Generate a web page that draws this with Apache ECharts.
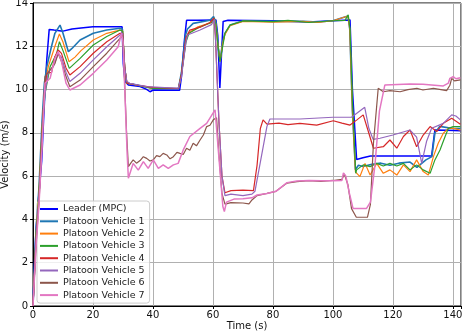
<!DOCTYPE html>
<html>
<head>
<meta charset="utf-8">
<script src="https://cdn.jsdelivr.net/npm/echarts@6/dist/echarts.min.js"></script>
<style>
  html, body { margin: 0; padding: 0; background: #fff; }
  #chart { width: 462px; height: 334px; }
</style>
</head>
<body>
<div id="chart"></div>
<script>
// time (s), velocity (m/s) pairs
var leader = [[0,0],[0.5,2],[1,3.5],[1.8,4.9],[2.9,6.7],[3.5,8.5],[4.2,10.5],[4.6,11.4],[5.4,12.78],[7,12.75],[10,12.7],[13,12.8],[16,12.85],[20,12.9],[25,12.9],[29.7,12.9],[30.1,11.2],[30.7,10.37],[31.8,10.21],[35.7,10.14],[37.9,10.01],[39,9.9],[40.1,9.98],[48.9,9.97],[49.5,10.6],[50.5,12.3],[51.2,13.2],[55,13.2],[61,13.22],[61.6,12.5],[62.3,10.07],[62.8,11.5],[63.4,13.15],[65,13.2],[80,13.18],[92,13.12],[100,13.18],[105.7,13.22],[106.5,10],[107.9,6.77],[110,6.85],[112.5,6.93],[132.9,6.93],[133.5,7.6],[134,8.13],[138,8.12],[142.5,8.1]];

var veh1 = [[0,0],[1,3.5],[2,5.5],[3,8.5],[3.8,10.3],[4.6,11.06],[6,11.9],[7.3,12.6],[9,12.98],[10,12.6],[11.8,11.75],[13,11.9],[15.7,12.29],[20.1,12.6],[24.6,12.75],[29,12.83],[29.8,12.8],[30.5,11],[31.2,10.3],[35,10.2],[40,10.05],[48.5,10.05],[49.5,10.8],[50.8,12.5],[51.5,12.8],[53.4,13.06],[59,13.2],[60.2,13.37],[61,13.1],[61.7,12],[62.4,11.3],[63.2,12.2],[64,12.6],[65.7,12.98],[70,13.17],[80,13.15],[90,13.15],[95,13.12],[100,13.18],[105,13.4],[105.6,12.8],[106.5,9],[107.5,6.3],[108.5,6.5],[110,6.45],[113,6.55],[116,6.6],[119,6.5],[122,6.6],[125.7,6.65],[128,6.4],[131,6.75],[133,6.9],[134,8.0],[135.6,8.3],[140,8.2],[142.5,8.2]];

var veh2 = [[0,0],[1,3.3],[2,5.3],[3,8.2],[4,10.2],[5.1,11.06],[7.3,12],[8.8,12.57],[10,12.2],[12,11.29],[14,11.5],[16,11.8],[20.1,12.29],[24.6,12.6],[29,12.75],[29.9,12.7],[30.6,11],[31.3,10.3],[35,10.2],[40,10.05],[48.5,10.05],[49.5,10.7],[51,12.3],[51.8,12.6],[55,12.9],[59.5,13.1],[60.4,13.3],[61,13],[61.7,12],[62.4,11.3],[63.2,12.1],[64,12.55],[65.7,12.95],[70,13.15],[80,13.12],[90,13.15],[95,13.1],[100,13.18],[105,13.4],[105.6,12.8],[106.5,9],[107.5,6.2],[107.9,6.29],[109,5.98],[110.7,6.59],[112.4,6.05],[114.6,6.59],[116.8,6.13],[119,6.29],[121.3,6.05],[123.5,6.52],[125.7,6.21],[127.9,6.75],[130.1,6.21],[131.8,6.05],[133.5,6.9],[135.1,7.52],[136.8,7.98],[138.5,8.21],[140.1,8.21],[142.5,8.13]];

var veh3 = [[0,0],[1,3.2],[2,5.2],[3,8],[4,9.8],[5.7,11.06],[7.9,11.67],[8.8,12.21],[10,11.8],[12.1,10.98],[15.7,11.44],[20.1,12.06],[24.6,12.45],[29,12.75],[29.9,12.7],[30.6,11],[31.3,10.3],[35,10.2],[40,10.05],[48.5,10.05],[49.5,10.7],[51,12.2],[52,12.6],[55,12.85],[59.5,13.1],[60.4,13.3],[61,13],[61.7,12],[62.3,11.29],[63,11.8],[64,12.6],[65.7,12.98],[70,13.17],[80,13.14],[85,13.2],[92,13.1],[100,13.18],[104,13.2],[105.1,13.45],[105.7,12.8],[106.5,9.5],[107.6,6.13],[107.9,6.29],[110.1,6.52],[112.4,6.44],[114.6,6.59],[116.8,6.47],[119,6.59],[121.3,6.47],[123.5,6.59],[125.7,6.29],[127.9,6.52],[130.1,6.29],[132.4,6.13],[134,6.75],[135.7,7.21],[137.4,7.83],[138.5,8.21],[140.1,8.29],[142.5,8.29]];

var veh4 = [[0,0],[1,3],[2,5],[3,7.8],[3.8,9.8],[4.6,10.75],[6.2,10.8],[7.3,11.52],[8.4,11.83],[9.5,11.67],[11,11],[12.3,10.67],[15.7,11.06],[20.1,11.68],[24.6,12.21],[29,12.6],[29.9,12.6],[30.6,11],[31.3,10.3],[35,10.2],[40,10.1],[48.5,10.05],[49.5,10.7],[51,12.4],[52.3,12.75],[56,12.9],[59,13.1],[60.3,13.3],[60.8,12.5],[62,8.5],[63,6],[64,5.23],[66,5.33],[70,5.35],[73.5,5.33],[74.7,6.5],[75.8,8.2],[76.7,8.6],[78,8.4],[82,8.45],[85,8.38],[89,8.44],[94.6,8.36],[100.1,8.56],[103,8.45],[105.7,8.36],[108,8.6],[110.1,8.83],[111.5,8.2],[113.5,7.29],[116.8,7.36],[119,7.67],[121.3,7.29],[123.5,7.83],[125.7,8.13],[127.9,7.36],[130.1,7.9],[132.4,8.29],[134.6,8.06],[136.8,8.44],[139.6,8.67],[142.5,8.4]];

var veh5 = [[0,0],[1,3],[2,5],[3,7.6],[3.8,9.6],[5.1,10.83],[6.8,11.06],[8.4,11.67],[9.5,11.5],[11,10.8],[12.3,10.37],[15.7,10.75],[20.1,11.37],[24.6,11.98],[29,12.52],[29.9,12.6],[30.6,11],[31.3,10.37],[32.3,10.29],[37.9,10.14],[48.4,10.06],[49.5,10.6],[51,12.2],[51.5,12.52],[55.7,12.75],[59.5,13],[60.5,13.25],[60.8,12.5],[62,8.5],[63,6],[64,5.1],[66,5.17],[70,5.1],[73,5.17],[74,5.3],[76,6.8],[78,8.3],[79,8.64],[89,8.64],[100,8.72],[106.2,8.72],[110.6,9.18],[112,8.2],[113.4,7.7],[115.7,7.75],[120,7.9],[125.7,8.13],[127.9,7.8],[129.6,6.59],[131.2,7.6],[132.9,8.21],[136.8,8.44],[139.6,8.83],[141,8.78],[142.5,8.6]];

var veh6 = [[0,0],[1,2.8],[2,4.8],[3,7.5],[3.6,9.5],[4,10.6],[5.7,10.9],[7.3,11.2],[8.4,11.67],[9.5,11.3],[11,10.6],[12.3,10.13],[15.7,10.44],[20.1,11.06],[24.6,11.68],[29,12.37],[29.9,12.5],[30.5,10.5],[31.2,8],[31.8,6.44],[32.6,6.6],[33.4,6.75],[34.5,6.6],[35.7,6.72],[36.8,6.9],[37.9,6.82],[39,6.7],[40.1,6.75],[41.2,6.95],[42.3,6.9],[43.4,7.05],[44.6,6.98],[45.7,6.8],[46.8,6.9],[48,7.1],[49,7.05],[50.1,7.0],[51.2,7.29],[52.3,7.2],[53.4,7.52],[54.5,7.4],[55.7,7.67],[56.8,7.9],[57.9,8.29],[59,8.35],[60.1,8.6],[61.2,8.7],[62,7],[63,5.2],[64,4.71],[66,4.78],[70,4.76],[72,4.72],[73,4.9],[74.7,5.1],[78,5.2],[81,5.3],[84.7,5.68],[88,5.75],[92,5.79],[96,5.76],[100,5.8],[103,5.85],[103.8,6.1],[105,5.6],[106.2,4.5],[107.8,4.1],[111.5,4.1],[112.5,4.7],[113.5,7.5],[115.1,10.06],[116.8,9.9],[119,9.95],[122.4,9.9],[125,10.0],[128,10.06],[130,9.98],[133.5,10.06],[136,10.0],[137.9,9.95],[139,10.2],[139.6,10.52],[140.5,10.4],[142.5,10.45]];

var veh7 = [[0,0],[1,2.7],[2,4.7],[3,7.3],[3.6,9.2],[4,10.29],[5.7,10.52],[7.3,11.44],[8.4,11.75],[9.5,11.3],[11,10.3],[12.3,9.98],[15.7,10.21],[20.1,10.75],[24.6,11.37],[28.4,11.98],[29.5,12.6],[30,12.2],[30.6,10],[31.4,7],[31.8,5.9],[33.4,6.59],[35.1,6.28],[36.8,6.67],[38.4,6.36],[40.1,6.75],[41.8,6.36],[43.4,6.52],[45.1,6.36],[46.8,6.52],[48.4,6.59],[50.1,7.21],[52.3,7.83],[55.7,8.21],[57.9,8.44],[60.7,9.06],[61.2,9.05],[62.2,6.5],[63.3,4.6],[63.8,4.36],[64.5,4.8],[67,4.94],[70,4.96],[73,5.0],[74.7,5.13],[78,5.2],[81,5.3],[84.7,5.7],[88,5.78],[92,5.8],[96,5.79],[100,5.79],[103,5.8],[103.5,6.15],[104.3,6.0],[105.5,5.2],[106.7,4.51],[111.2,4.51],[112.5,4.8],[114,6.5],[115.5,9],[117.3,10.21],[125.7,10.26],[130,10.25],[136.8,10.17],[138.5,10.3],[139,10.52],[140.1,10.6],[141,10.5],[142.5,10.55]];

var names = ['Leader (MPC)', 'Platoon Vehicle 1', 'Platoon Vehicle 2', 'Platoon Vehicle 3',
  'Platoon Vehicle 4', 'Platoon Vehicle 5', 'Platoon Vehicle 6', 'Platoon Vehicle 7'];
var colors = ['#0000ff', '#1f77b4', '#ff7f0e', '#2ca02c', '#d62728', '#9467bd', '#8c564b', '#e377c2'];
var widths = [1.5, 1.6, 1.2, 1.2, 1.2, 1.2, 1.2, 1.5];
var allData = [leader, veh1, veh2, veh3, veh4, veh5, veh6, veh7];

var xTicks = [0, 20, 40, 60, 80, 100, 120, 140];

var chart = echarts.init(document.getElementById('chart'));

var series = allData.map(function (d, i) {
  return {
    name: names[i],
    type: 'line',
    data: d,
    showSymbol: false,
    symbol: 'none',
    color: colors[i],
    lineStyle: { width: widths[i], color: colors[i] },
    z: 2 + i
  }
});

chart.setOption({
  animation: false,
  backgroundColor: '#fff',
  textStyle: { fontFamily: 'DejaVu Sans' },
  grid: {
    left: 33, right: 1, top: 3, bottom: 28,
    containLabel: false,
    outerBoundsMode: 'none',
    show: true, borderColor: '#000', borderWidth: 1
  },
  xAxis: {
    type: 'value',
    min: 0, max: 142.7, interval: 20,
    name: 'Time (s)',
    nameLocation: 'middle',
    nameGap: 15,
    nameMoveOverlap: false,
    nameTextStyle: { fontSize: 10, color: '#111' },
    axisLine: { lineStyle: { color: '#000', width: 1 } },
    axisTick: { show: true, length: 3, lineStyle: { color: '#000' } },
    axisLabel: {
      fontSize: 10, color: '#111', margin: 4,
      formatter: function (v) { return xTicks.indexOf(v) >= 0 ? v : '' }
    },
    splitLine: { show: true, lineStyle: { color: '#b0b0b0', width: 1 } }
  },
  yAxis: {
    type: 'value',
    min: 0, max: 14, interval: 2,
    name: 'Velocity (m/s)',
    nameLocation: 'middle',
    nameRotate: 90,
    nameGap: 23,
    nameMoveOverlap: false,
    nameTextStyle: { fontSize: 10, color: '#111' },
    axisLine: { show: true, lineStyle: { color: '#000', width: 1 } },
    axisTick: { show: true, length: 3, lineStyle: { color: '#000' } },
    axisLabel: { fontSize: 10, color: '#111', margin: 5 },
    splitLine: { show: true, lineStyle: { color: '#b0b0b0', width: 1 } }
  },
  legend: {
    orient: 'vertical',
    left: 37, top: 201,
    data: names.map(function (n) { return { name: n, icon: 'rect' } }),
    itemWidth: 18, itemHeight: 2,
    itemGap: 2.3,
    itemTextGap: 5,
    padding: [3, 5, 3, 3],
    backgroundColor: 'rgba(255,255,255,0.8)',
    borderColor: '#cccccc',
    borderWidth: 1,
    borderRadius: 3,
    textStyle: { fontSize: 9.5, color: '#222', lineHeight: 10 }
  },
  series: series
});
</script>
</body>
</html>
